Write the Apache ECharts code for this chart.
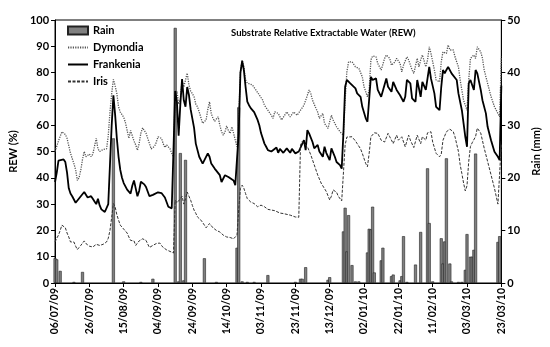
<!DOCTYPE html>
<html><head><meta charset="utf-8">
<script src="https://cdn.jsdelivr.net/npm/echarts@6/dist/echarts.min.js"></script>
<style>html,body{margin:0;padding:0;background:#fff}#c{width:550px;height:347px}</style>
</head><body><div id="c"></div>
<script>
// x values are day indices counted from 06/07/09
const tickLabels = ['06/07/09','26/07/09','15/08/09','04/09/09','24/09/09','14/10/09','03/11/09','23/11/09','13/12/09','02/01/10','22/01/10','11/02/10','03/03/10','23/03/10'];
const tickStep = 20;

const rain = [[0,4.7],[1,4.5],[3,2.3],[11,0.2],[16,2.1],[34,27.5],[40,0.3],[50,0.2],[57,0.8],[70,48.5],[72,0.3],[73,24.7],[75,0.5],[76,23.4],[87,4.7],[94,0.2],[106,6.7],[107,33.4],[109,0.3],[112,0.2],[116,0.2],[124,1.5],[140,0.2],[143,0.8],[144,0.8],[146,3.0],[159,0.6],[160,1.1],[168,9.8],[169,14.3],[170,6],[171,12.9],[173,3.4],[175,0.3],[177,0.3],[182,5.8],[183,10.3],[184,10.2],[185,14.5],[186,2],[190,4.3],[191,6.7],[196,1.3],[197,1.6],[201,0.5],[202,1.3],[203,8.9],[205,0.2],[210,3.5],[213,9.7],[217,21.8],[218,11.4],[220,0.3],[225,8.5],[226,3.7],[227,7.9],[228,23.7],[230,3.7],[231,0.3],[235,0.2],[237,0.2],[239,2.5],[240,9.3],[242,5.0],[243,5.0],[244,6.3],[245,24.6],[258,7.8],[259,8.9]];

const dymondia = [[0,50],[2,54],[4,57.5],[6,56.5],[7,55],[9,49.3],[11,45.4],[12,43],[13,39],[14,40],[15,43],[16,47],[17,50],[18,48],[19,47.5],[20,49],[21,48],[22,49],[23,52],[24,55],[25,51],[26,50],[28,50.8],[30,51],[31,56],[32,65],[33,72],[34,77.4],[35,75],[36,72],[37,67],[38,65],[39,64],[40,63],[41,61],[42,58],[43,55],[44,58],[45,56],[46,54],[47,52.5],[48,50.5],[49,53],[50,57],[51,59],[52,58.8],[53,57],[54,55],[55,53],[56,51],[57,51.5],[58,52],[59,53.5],[60,55.6],[61,56],[62,55],[63,53],[64,51.5],[65,52.5],[66,53],[67,51],[68,49.3],[69,48],[70,72],[71,73],[72,68],[73,70],[74,77],[75,74.5],[76,75],[77,79.8],[78,75.4],[79,73],[80,72],[81,70.8],[82,68],[83,67],[84,65],[85,64.5],[86,60.7],[87,60],[88,62],[89,66],[90,68.9],[91,64.5],[92,62.6],[93,61.5],[94,62],[95,63.2],[96,60],[97,57.5],[98,56.2],[99,57.5],[100,59.7],[101,58],[102,56.9],[103,59.4],[104,57],[105,54.3],[106,51.8],[107,63],[108,80],[109,84.8],[110,82.3],[111,77.2],[112,76],[113,75.9],[115,75.3],[117,73.4],[119,71.5],[121,69.5],[122,67.6],[124,65.7],[126,63.8],[127,62.6],[128,65.1],[130,64.5],[132,62],[133,62.6],[135,65.1],[137,63.2],[139,65],[141,63.8],[143,65.7],[145,67.6],[147,71.4],[148,73.4],[149,72],[150,69.5],[152,66.4],[153,65],[154,62.6],[156,64.5],[157,60.7],[159,58.8],[161,63.8],[162,62],[164,59.4],[166,57.5],[168,56.2],[169,69.5],[170,80.3],[171,84.1],[173,84.1],[175,82.2],[177,81.6],[178,81],[179,78.4],[180,74.6],[182,70.8],[183,73.4],[184,84.8],[185,86.3],[187,86],[188,83.5],[190,81],[192,85.4],[193,86.7],[195,85.4],[196,82.8],[198,84.1],[199,85.4],[201,83.5],[202,80.3],[203,82.8],[205,86],[206,84.8],[208,81],[209,79.7],[211,85.4],[212,82.2],[213,84.8],[214,86.7],[216,82.2],[217,84.8],[218,89.8],[219,87.3],[221,81],[222,77.2],[224,76.5],[225,84.1],[226,87.9],[228,87.3],[229,90.5],[230,88.6],[232,88.6],[233,86],[235,82.2],[236,77.2],[238,69.5],[240,65.7],[241,77.2],[242,85.4],[244,86.7],[245,85.4],[246,89.8],[248,87.9],[249,85.4],[250,81],[252,75.9],[254,70.8],[256,67],[258,64.5],[259,63.2],[260,86]];

const frankenia = [[0,38.4],[1,42],[2,46.5],[3,47],[5,47],[6,46],[7,42],[8,36],[9,34],[10,33],[12,30.5],[13,31],[15,33],[17,34.6],[19,32.5],[20,32],[21,33],[22,32],[23,31],[24,30],[25,32],[26,29.5],[27,28],[28,27.5],[29,27],[30,27.5],[31,30],[32,45],[33,60],[34,71.4],[35,64],[36,55],[37,48],[38,43],[39,40],[40,38],[42,35.5],[44,34],[45,37],[46,39],[47,36],[48,33],[49,35],[50,38.5],[52,37.5],[53,36.5],[55,33],[57,33.5],[58,34],[60,34.5],[62,34.2],[64,32.5],[66,29],[68,28.4],[69,28.3],[70,73],[71,69],[72,56],[73,68],[74,77.5],[75,69.5],[76,67],[77,74.5],[78,71.5],[79,66],[81,59],[82,53],[84,48],[86,45.4],[87,46],[89,49.3],[90,48],[91,45.4],[93,43.5],[94,43],[96,41],[97,38.4],[99,41],[101,40.3],[102,41],[104,39],[105,37.2],[106,37.5],[107,57],[108,80],[109,84.4],[110,81],[111,74.6],[112,69],[113,67.6],[114,66.5],[116,65],[118,62],[119,60],[120,57],[122,53],[123,51.8],[124,50.5],[126,50],[127,49.3],[129,51.5],[130,49.5],[131,51],[133,49.5],[135,51.2],[137,49.5],[138,51],[140,49.3],[142,50],[143,49.3],[145,54.3],[146,50.5],[147,58.1],[148,56.9],[150,53.6],[151,51.2],[153,52.5],[154,50],[156,48],[157,51.8],[158,49.5],[160,46.7],[161,51.2],[163,48],[164,46],[166,44.8],[167,43.5],[168,57],[169,74.6],[170,77.2],[172,75.9],[173,76.5],[175,74],[176,72.1],[178,70.8],[179,67],[181,62.6],[182,61.3],[183,62],[184,78.4],[185,77.2],[187,77.8],[188,73.4],[190,70.8],[191,70.2],[193,77.8],[194,74.6],[196,72.7],[197,76.5],[199,73.4],[201,71.4],[203,68.9],[204,70.8],[205,77.2],[207,75.9],[208,70.2],[210,68.9],[211,77.2],[213,70.8],[214,76.5],[216,73.4],[217,77.8],[218,82.2],[219,77.8],[221,72.1],[222,67],[224,65.7],[225,74.6],[226,81],[227,79.7],[228,81],[229,82.2],[231,79.7],[232,80.3],[234,77.2],[235,72.1],[237,65.7],[238,60.7],[239,55.6],[240,51.8],[241,75.9],[242,77.2],[244,73.4],[245,81],[246,79.7],[248,73.4],[249,69.5],[251,64.5],[252,59.4],[254,54.3],[256,49.9],[258,48],[259,46.7],[260,75]];

const iris = [[0,15.6],[1,17],[2,18.2],[3,20],[4,22],[5,22.4],[6,21],[7,19],[8,17.5],[9,15.6],[10,15.5],[11,15.6],[12,14],[13,12.7],[14,13.5],[15,14.3],[16,15],[17,16],[18,15],[19,14.3],[20,14],[21,14],[22,13.7],[23,14.2],[24,14.7],[25,14.5],[26,14.3],[27,14.5],[28,14.7],[29,15],[30,15.6],[31,17],[32,20],[33,25],[34,30.2],[35,29],[36,26],[37,23.9],[38,22],[39,21.3],[40,20.5],[41,20],[42,19],[43,17.5],[44,16.2],[45,16.8],[46,16],[47,14.3],[48,15.2],[49,16],[50,16.5],[51,16.8],[52,16.5],[53,16.2],[54,14.8],[55,13.5],[56,14],[57,14.3],[58,14.6],[59,15],[60,15.6],[61,15.2],[62,14.3],[63,13.5],[64,12.8],[65,12.6],[66,12.4],[67,12],[68,11.8],[69,11.4],[70,31.5],[71,30.5],[72,30],[73,32],[74,33],[75,30],[76,32],[77,34.6],[78,33],[79,31.5],[80,29.5],[81,27.7],[82,26.5],[83,25.1],[84,24.5],[85,23.9],[86,23],[87,22],[88,21],[89,21.5],[90,22.6],[91,22],[92,21],[93,20.5],[94,20],[95,19.7],[96,19.4],[97,18.8],[98,18.2],[99,17.8],[100,17.5],[102,17.3],[104,16.8],[105,16.2],[106,18.2],[107,28],[108,36],[109,37.2],[110,36],[111,34],[112,32.1],[113,31.5],[114,30.8],[116,30.2],[118,29],[120,29.6],[122,29],[124,28],[125,27.7],[128,27.5],[131,26.6],[133,26.4],[137,25.8],[140,25.1],[141,24.6],[142,25],[143,52.5],[144,53.8],[145,53],[147,51.9],[149,48.7],[151,44.9],[153,41.1],[155,38],[156,37.3],[158,34.8],[160,31.6],[161,33],[162,35.4],[163,35],[164,34.5],[165,33],[166,32.4],[167,31.2],[168,31],[169,52.5],[170,55.5],[171,56],[173,55.6],[175,54],[176,53],[178,51],[179,49.3],[181,45.4],[182,44.2],[183,49.3],[184,55.6],[186,57.1],[188,56.9],[190,54.3],[192,53.6],[194,56.9],[195,55.6],[197,53],[199,56.2],[200,54.3],[202,55.6],[204,51.8],[206,56.2],[207,54.3],[209,51.5],[211,56.2],[213,53],[214,55.6],[216,54.3],[217,57.1],[219,57.5],[220,53.6],[222,49.3],[224,48],[225,49],[226,54.3],[228,57.5],[230,58.5],[232,57.5],[233,55.6],[235,50],[236,45],[237,41.6],[238,38],[239,35],[240,37],[241,46.2],[242,51.9],[243,53.3],[245,55.7],[246,58.9],[248,57],[250,51.3],[252,46.2],[254,41.1],[256,36],[258,30],[259,29.5],[260,53]];

const FONT = 'Lato';
const bold = {fontFamily: FONT, fontWeight: 'bold', color: '#000'};
const noSymbol = {opacity: 0};

const chart = echarts.init(document.getElementById('c'), null, {renderer: 'canvas'});
chart.setOption({
  animation: false,
  backgroundColor: '#fff',
  title: {
    text: 'Substrate Relative Extractable Water (REW)',
    left: 226, top: 23,
    textStyle: Object.assign({fontSize: 9.5}, bold)
  },
  legend: {
    orient: 'vertical', left: 62, top: 20,
    itemWidth: 20, itemHeight: 8, itemGap: 6,
    textStyle: Object.assign({fontSize: 11}, bold),
    data: [
      {name: 'Rain', icon: 'rect'},
      {name: 'Dymondia', itemStyle: noSymbol},
      {name: 'Frankenia', itemStyle: noSymbol},
      {name: 'Iris', itemStyle: noSymbol}
    ]
  },
  grid: {left: 48, right: 48, top: 20, bottom: 64, show: true, borderColor: '#000', borderWidth: 1},
  xAxis: {
    type: 'value', min: 0, max: (tickLabels.length - 1) * tickStep, interval: tickStep,
    axisLine: {lineStyle: {color: '#000', width: 1}},
    axisTick: {show: true, length: 4, lineStyle: {color: '#000'}},
    splitLine: {show: false},
    axisLabel: Object.assign({
      rotate: 90, fontSize: 10.5, margin: 5,
      formatter: v => tickLabels[Math.round(v / tickStep)] || ''
    }, bold)
  },
  yAxis: [{
    type: 'value', min: 0, max: 100, interval: 10,
    name: 'REW (%)', nameLocation: 'middle', nameGap: 28, nameRotate: 90,
    nameTextStyle: Object.assign({fontSize: 11}, bold),
    axisLine: {show: true, lineStyle: {color: '#000'}},
    axisTick: {show: true, length: 4, lineStyle: {color: '#000'}},
    splitLine: {show: false},
    axisLabel: Object.assign({fontSize: 11, margin: 6}, bold)
  }, {
    type: 'value', min: 0, max: 50, interval: 10, position: 'right',
    name: 'Rain (mm)', nameLocation: 'middle', nameGap: 28, nameRotate: 90,
    nameTextStyle: Object.assign({fontSize: 11}, bold),
    axisLine: {show: true, lineStyle: {color: '#000'}},
    axisTick: {show: true, length: 4, lineStyle: {color: '#000'}},
    splitLine: {show: false},
    axisLabel: Object.assign({fontSize: 11, margin: 6}, bold)
  }],
  series: [{
    name: 'Rain', type: 'bar', yAxisIndex: 1, barWidth: 3,
    itemStyle: {color: '#808080', borderColor: '#222', borderWidth: 0.6},
    data: rain, z: 2
  }, {
    name: 'Dymondia', type: 'line', showSymbol: false, symbol: 'none',
    lineStyle: {color: '#555', width: 1.3, type: [1.2, 1.2]},
    itemStyle: {color: '#555'},
    data: dymondia, z: 3
  }, {
    name: 'Frankenia', type: 'line', showSymbol: false, symbol: 'none',
    lineStyle: {color: '#000', width: 1.8},
    itemStyle: {color: '#000'},
    data: frankenia, z: 3
  }, {
    name: 'Iris', type: 'line', showSymbol: false, symbol: 'none',
    lineStyle: {color: '#333', width: 1, type: [3, 1.5]},
    itemStyle: {color: '#333'},
    data: iris, z: 3
  }]
});
</script></body></html>
